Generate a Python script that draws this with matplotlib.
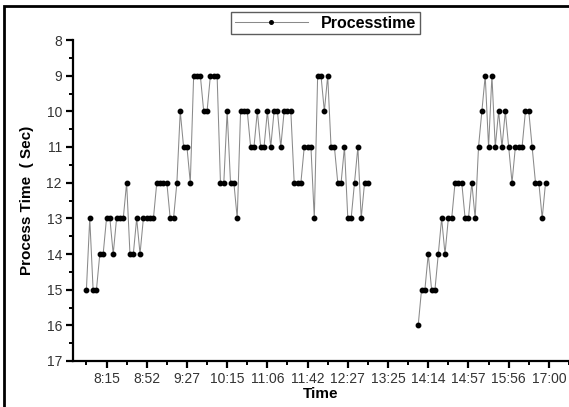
import numpy as np
import matplotlib
matplotlib.use("Agg")
import matplotlib.pyplot as plt
from matplotlib.patches import Rectangle

# --- data (index positions along categorical time axis) ---
seg1_start = 4
seg1_values = [15, 13, 15, 15, 14, 14, 13, 13, 14, 13, 13, 13, 12, 14, 14, 13, 14,
               13, 13, 13, 13, 12, 12, 12, 12, 13, 13, 12, 10, 11, 11, 12, 9, 9, 9,
               10, 10, 9, 9, 9, 12, 12, 10, 12, 12, 13, 10, 10, 10, 11, 11, 10, 11,
               11, 10, 11, 10, 10, 11, 10, 10, 10, 12, 12, 12, 11, 11, 11, 13, 9, 9,
               10, 9, 11, 11, 12, 12, 11, 13, 13, 12, 11, 13, 12, 12]
seg2_start = 103
seg2_values = [16, 15, 15, 14, 15, 15, 14, 13, 14, 13, 13, 12, 12, 12, 13, 13, 12,
               13, 11, 10, 9, 11, 9, 11, 10, 11, 10, 11, 12, 11, 11, 11, 10, 10, 11,
               12, 12, 13, 12]

tick_positions = [10, 22, 34, 46, 58, 70, 82, 94, 106, 118, 130, 142]
tick_labels = ["8:15", "8:52", "9:27", "10:15", "11:06", "11:42", "12:27",
               "13:25", "14:14", "14:57", "15:56", "17:00"]
series_name = "Processtime"

n = seg2_start + len(seg2_values)
y = np.full(n, np.nan)
y[seg1_start:seg1_start + len(seg1_values)] = seg1_values
y[seg2_start:seg2_start + len(seg2_values)] = seg2_values
x = np.arange(n)

plt.rcParams['font.family'] = ['Liberation Sans', 'DejaVu Sans']

fig = plt.figure(figsize=(5.69, 4.07), dpi=100)
W, H = 569, 407
ax = fig.add_axes([73 / W, 46 / H, (W - 73) / W, (361 - 40) / H])

ax.plot(x, y, color='#8a8a8a', lw=0.75, marker='o', markersize=3.2,
        markerfacecolor='black', markeredgecolor='black', label=series_name)

ax.set_xlim(0, (W - 73) / 3.379)
ax.set_ylim(17, 8)
ax.set_yticks(np.arange(8, 18, 1))
ax.set_yticks(np.arange(8.5, 17, 1), minor=True)
ax.set_xticks(tick_positions)
ax.set_xticklabels(tick_labels)
ax.set_xticks([p - 6 for p in tick_positions] + [148], minor=True)

for s in ['top', 'right']:
    ax.spines[s].set_visible(False)
for s in ['left', 'bottom']:
    ax.spines[s].set_linewidth(1.6)

ax.tick_params(which='major', direction='out', length=5, width=1.6,
               labelsize=10, colors='black', labelcolor='#333333', pad=3)
ax.tick_params(which='minor', direction='out', length=3, width=1.4)

ax.set_xlabel('Time', fontsize=11, fontweight='bold', labelpad=1)
ax.set_ylabel('Process Time  ( Sec)', fontsize=11, fontweight='bold', labelpad=9)

leg = ax.legend(loc='center', bbox_to_anchor=((325.5 - 73) / (W - 73), 1 + (40 - 23) / (361 - 40)),
                frameon=True, fancybox=False, edgecolor='#333333',
                prop={'weight': 'bold', 'size': 11.5}, handlelength=4.6, markerscale=0.8,
                borderpad=0.25, handletextpad=0.8, borderaxespad=0)
leg.get_frame().set_linewidth(1.0)

# outer frame (left and top borders of the original image)
fig.patches.append(Rectangle((4 / W, -0.01), 1.0, 1 - 6 / H + 0.01, transform=fig.transFigure,
                             fill=False, edgecolor='black', linewidth=2.0))

fig.savefig('out.png', dpi=100)
